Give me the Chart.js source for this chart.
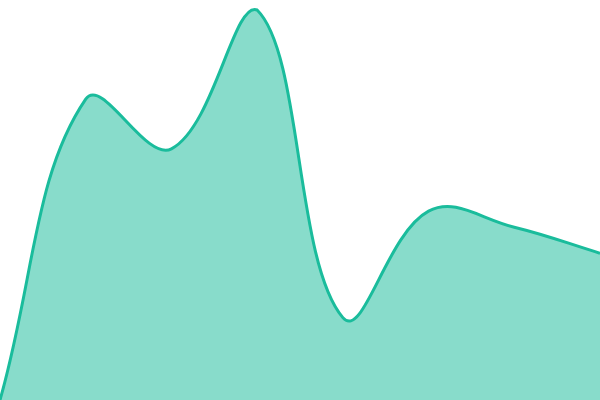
<!DOCTYPE html>
<html>
<head>
<meta charset="utf-8">
<script src="https://cdn.jsdelivr.net/npm/chart.js@4"></script>
<style>
  html, body { margin: 0; padding: 0; background: #fff; }
  #areaChart { display: block; }
</style>
</head>
<body>
<canvas id="areaChart" width="600" height="400"></canvas>
<script>
// ── Data ──
const LABELS = ['A', 'B', 'C', 'D', 'E', 'F', 'G', 'H'];
const VALUES = [0, 75.2, 62.8, 97.5, 20.6, 47.2, 43.2, 36.7];
const Y_MIN = 0;
const Y_MAX = 100;

const LINE_COLOR = '#1abc9c';
const FILL_COLOR = 'rgba(26,188,156,0.52)';

new Chart(document.getElementById('areaChart'), {
  type: 'line',
  data: {
    labels: LABELS,
    datasets: [{
      data: VALUES,
      borderColor: LINE_COLOR,
      backgroundColor: FILL_COLOR,
      borderWidth: 3,
      fill: true,
      tension: 0.4,
      pointRadius: 0,
    }],
  },
  options: {
    responsive: false,
    animation: false,
    layout: { padding: 0 },
    plugins: { legend: { display: false }, tooltip: { enabled: false } },
    scales: {
      x: { display: false },
      y: { display: false, min: Y_MIN, max: Y_MAX },
    },
  },
});
</script>
</body>
</html>
